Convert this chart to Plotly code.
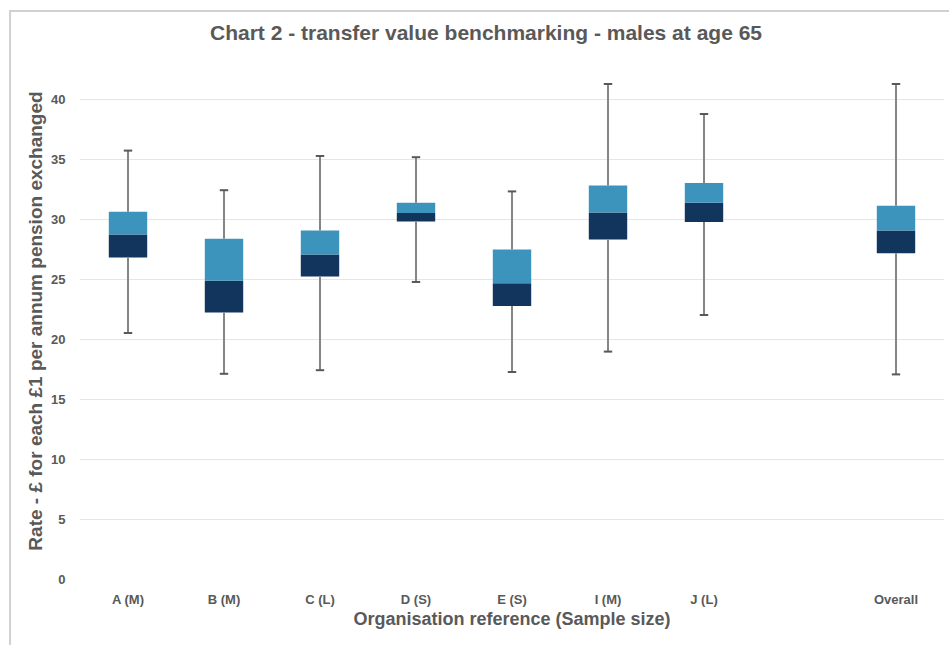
import plotly.graph_objects as go

categories = ["A (M)", "B (M)", "C (L)", "D (S)", "E (S)", "I (M)", "J (L)", " ", "Overall"]
plot_cats = ["A (M)", "B (M)", "C (L)", "D (S)", "E (S)", "I (M)", "J (L)", "Overall"]
minimum = [20.5, 17.1, 17.4, 24.75, 17.25, 18.95, 22.0, 17.05]
q1 = [26.8, 22.2, 25.2, 29.8, 22.75, 28.3, 29.75, 27.15]
median = [28.7, 24.85, 27.05, 30.5, 24.65, 30.55, 31.35, 29.05]
q3 = [30.6, 28.35, 29.05, 31.35, 27.45, 32.8, 33.0, 31.1]
maximum = [35.7, 32.4, 35.25, 35.15, 32.3, 41.25, 38.75, 41.25]

DARK = "#12355e"
LIGHT = "#3c93bb"
WHISK = "#858585"
TXT = "#595959"

fig = go.Figure()

# whisker lines
wx, wy = [], []
for c, lo, a, b, hi in zip(plot_cats, minimum, q1, q3, maximum):
    wx += [c, c, None, c, c, None]
    wy += [lo, a, None, b, hi, None]
fig.add_trace(go.Scatter(x=wx, y=wy, mode="lines", line=dict(color=WHISK, width=2),
                         hoverinfo="skip", showlegend=False))
# caps
fig.add_trace(go.Scatter(x=plot_cats + plot_cats, y=minimum + maximum, mode="markers",
                         marker=dict(symbol="line-ew", size=6, line=dict(color="#595959", width=2)),
                         hoverinfo="skip", showlegend=False))

fig.add_trace(go.Bar(x=plot_cats, y=[m - a for m, a in zip(median, q1)], base=q1,
                     marker=dict(color=DARK, line=dict(width=0)), width=0.4, showlegend=False))
fig.add_trace(go.Bar(x=plot_cats, y=[b - m for b, m in zip(q3, median)], base=median,
                     marker=dict(color=LIGHT, line=dict(width=0)), width=0.4, showlegend=False))

fig.update_layout(
    width=949, height=645,
    margin=dict(l=80, r=5, t=63, b=66),
    paper_bgcolor="white", plot_bgcolor="white",
    barmode="overlay",
    font=dict(family="Liberation Sans, Arial, sans-serif", color=TXT),
    title=dict(text="<b>Chart 2 - transfer value benchmarking - males at age 65</b>",
               x=486 / 949, xanchor="center", y=1 - 33 / 645, yanchor="middle",
               font=dict(size=21, color=TXT)),
    xaxis=dict(type="category", categoryorder="array", categoryarray=categories,
               tickmode="array", tickvals=categories, ticktext=["<b>%s</b>" % c for c in categories],
               tickfont=dict(size=13, color=TXT), showgrid=False, showline=False,
               ticks="outside", ticklen=8, tickcolor="rgba(0,0,0,0)",
               range=[-0.5, len(categories) - 0.5],
               title=dict(text="<b>Organisation reference (Sample size)</b>",
                          font=dict(size=18, color=TXT), standoff=6)),
    yaxis=dict(range=[0, 43], tickmode="array", tickvals=list(range(0, 45, 5)),
               ticktext=["<b>%d</b>" % v for v in range(0, 45, 5)],
               tickfont=dict(size=13, color=TXT), showgrid=True, gridcolor="#e6e6e6", gridwidth=1,
               zeroline=False, showline=False,
               ticks="outside", ticklen=11, tickcolor="rgba(0,0,0,0)",
               title=dict(text="<b>Rate - £ for each £1 per annum pension exchanged</b>",
                          font=dict(size=19, color=TXT), standoff=3)),
    shapes=[dict(type="rect", xref="paper", yref="paper",
                 x0=-70 / 865, x1=1.05, y0=-0.2, y1=1 + 52 / 516,
                 line=dict(color="#d0d0d0", width=2), fillcolor="rgba(0,0,0,0)", layer="below")],
)

fig.write_html("out.html", config={"displayModeBar": False},
               post_script="document.body.style.margin='0';")
